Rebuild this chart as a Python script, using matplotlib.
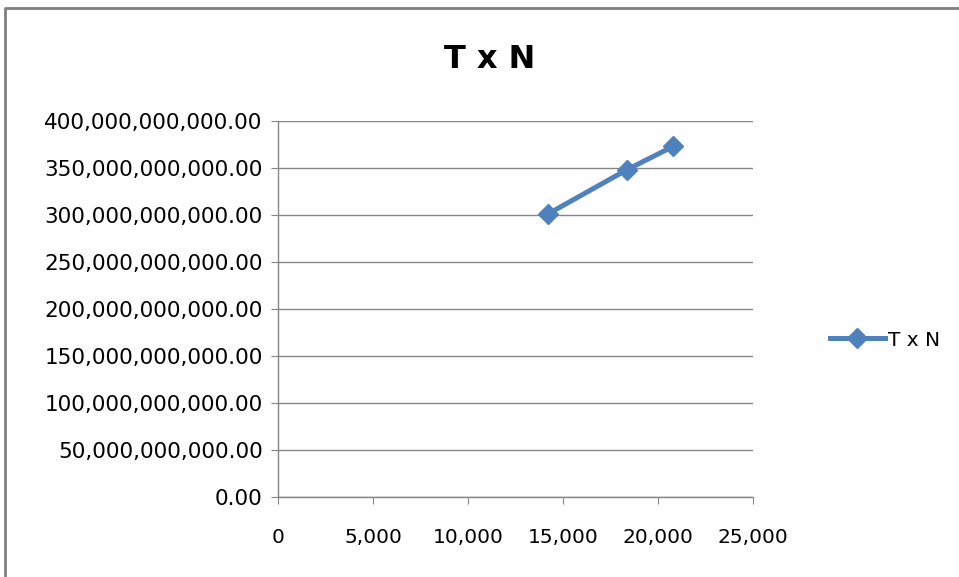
import numpy as np
import matplotlib.pyplot as plt
from matplotlib.lines import Line2D
from matplotlib.ticker import FuncFormatter, MultipleLocator

# Data
n_values = [14200, 18350, 20800]
t_values = [301e9, 348e9, 373e9]
series_name = 'T x N'

plt.rcParams['font.family'] = ['DejaVu Sans']

W, H = 959, 577
fig = plt.figure(figsize=(W / 100, H / 100), dpi=100)

# axes position in pixels
left, right, top, bottom = 278, 753, 121, 497
ax = fig.add_axes([left / W, 1 - bottom / H, (right - left) / W, (bottom - top) / H])

line_color = '#4F81BD'
grid_color = '#868686'

ax.plot(n_values, t_values, color=line_color, linewidth=3.6, marker='D',
        markersize=10, label=series_name, zorder=3)

ax.set_xlim(0, 25000)
ax.set_ylim(0, 400e9)
ax.xaxis.set_major_locator(MultipleLocator(5000))
ax.yaxis.set_major_locator(MultipleLocator(50e9))
ax.xaxis.set_major_formatter(FuncFormatter(lambda v, p: f'{v:,.0f}'))
ax.yaxis.set_major_formatter(FuncFormatter(lambda v, p: f'{v:,.2f}'))

ax.grid(axis='y', color=grid_color, linewidth=1)
ax.set_axisbelow(True)
for s in ['top', 'right']:
    ax.spines[s].set_visible(False)
for s in ['left', 'bottom']:
    ax.spines[s].set_color(grid_color)
    ax.spines[s].set_linewidth(1)
ax.tick_params(axis='both', direction='out', length=5, color=grid_color,
               labelcolor='black')
ax.tick_params(axis='x', pad=17, labelsize=14.5)
ax.tick_params(axis='y', pad=6, labelsize=15.5)

fig.text(490 / W, 1 - 60 / H, 'T x N', ha='center', va='center',
         fontsize=23, fontweight='bold')

leg = ax.legend(loc='center left', bbox_to_anchor=(812 / W, 1 - 340 / H),
                bbox_transform=fig.transFigure, frameon=False, fontsize=14.5,
                handlelength=2.7, handletextpad=0.15)

# chart area border (partially visible)
fig.add_artist(Line2D([5 / W, 5 / W, 1], [0, 1 - 8 / H, 1 - 8 / H],
                      transform=fig.transFigure, color='#808080', linewidth=2))

fig.savefig('out.png', dpi=100)
